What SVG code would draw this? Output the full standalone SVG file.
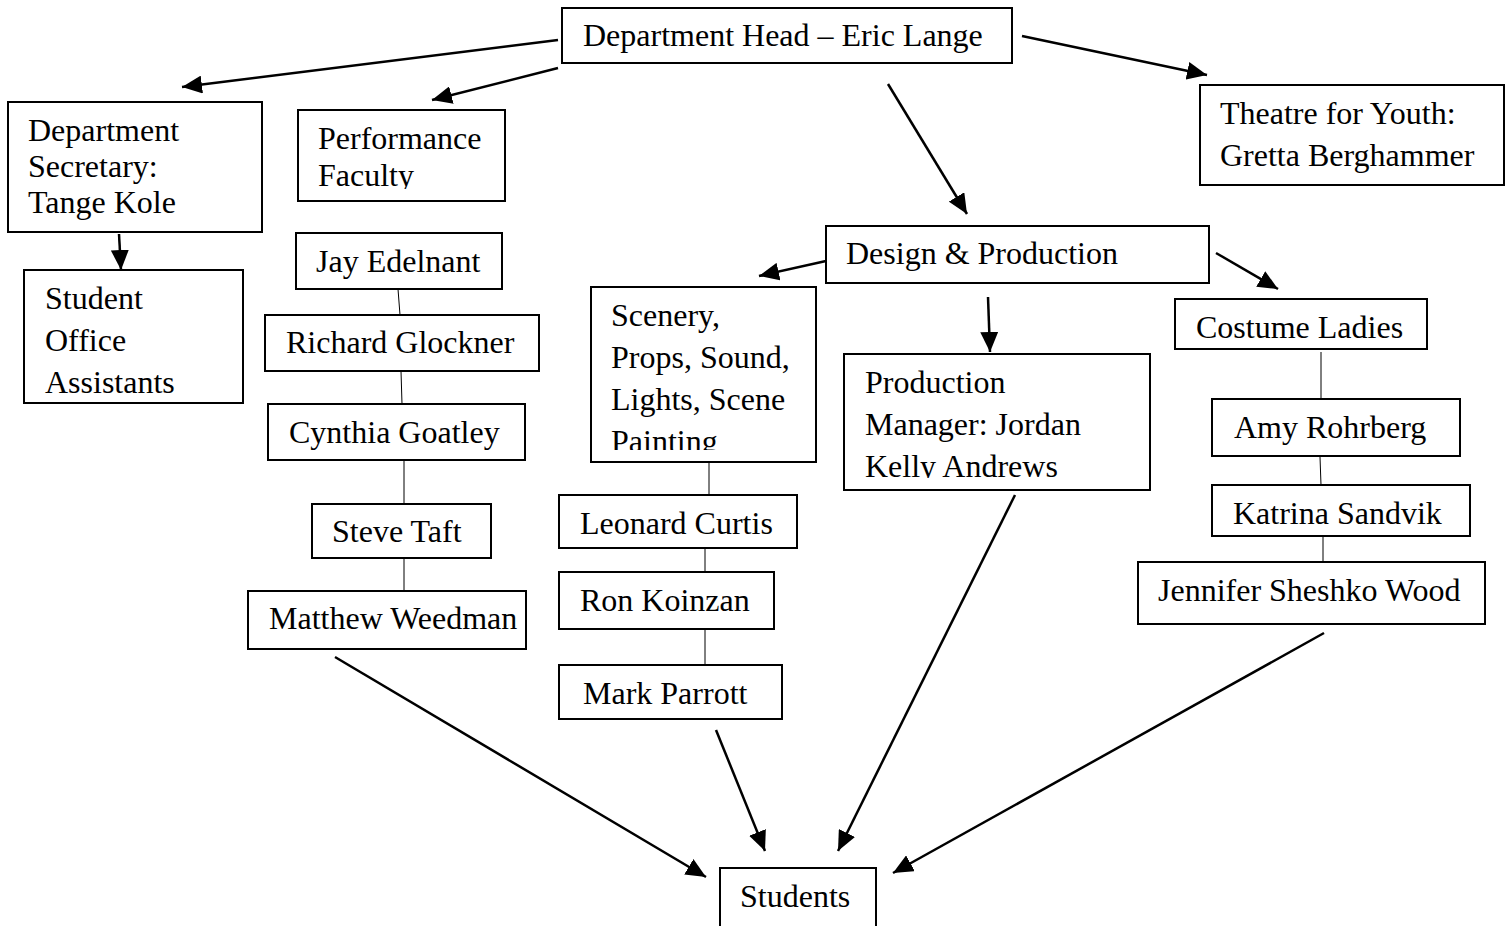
<svg xmlns="http://www.w3.org/2000/svg" width="1512" height="926" viewBox="0 0 1512 926">
<style>
.box{fill:#fff;stroke:#000;stroke-width:2}
text{font-family:"Liberation Serif","Times New Roman",serif;font-size:32px;fill:#000}
.arr{stroke:#000;stroke-width:2.5;fill:none;marker-end:url(#ah)}
.thin{stroke:#000;stroke-width:1;fill:none}
</style>
<defs>
<marker id="ah" markerUnits="userSpaceOnUse" markerWidth="22" markerHeight="18" refX="20" refY="9" orient="auto">
<path d="M0,0 L20,9 L0,18 Z" fill="#000"/>
</marker>
<clipPath id="cFac"><rect x="298" y="110" width="207" height="79"/></clipPath>
<clipPath id="cScen"><rect x="591" y="287" width="225" height="163"/></clipPath>
<clipPath id="cProd"><rect x="844" y="354" width="306" height="124"/></clipPath>
</defs>
<rect width="1512" height="926" fill="#fff"/>

<g id="connectors">
<line class="arr" x1="558" y1="40" x2="182" y2="87"/>
<line class="arr" x1="558" y1="68" x2="432" y2="100"/>
<line class="arr" x1="1022" y1="36" x2="1207" y2="75"/>
<line class="arr" x1="888" y1="84" x2="967" y2="214"/>
<line class="arr" x1="826" y1="261" x2="759" y2="276"/>
<line class="arr" x1="1216" y1="253" x2="1278" y2="289"/>
<line class="arr" x1="988" y1="297" x2="990" y2="352"/>
<line class="arr" x1="119" y1="234" x2="121" y2="270"/>
<line class="arr" x1="335" y1="657" x2="706" y2="877"/>
<line class="arr" x1="716" y1="730" x2="765" y2="851"/>
<line class="arr" x1="1015" y1="495" x2="838" y2="851"/>
<line class="arr" x1="1324" y1="633" x2="893" y2="873"/>
<line class="thin" x1="398" y1="289" x2="400" y2="315"/>
<line class="thin" x1="401" y1="371" x2="402" y2="404"/>
<line class="thin" x1="404" y1="460" x2="404" y2="504"/>
<line class="thin" x1="404" y1="558" x2="404" y2="591"/>
<line class="thin" x1="709" y1="462" x2="709" y2="495"/>
<line class="thin" x1="705" y1="548" x2="705" y2="572"/>
<line class="thin" x1="705" y1="629" x2="705" y2="665"/>
<line class="thin" x1="1321" y1="352" x2="1321" y2="398"/>
<line class="thin" x1="1320" y1="457" x2="1321" y2="485"/>
<line class="thin" x1="1323" y1="537" x2="1323" y2="562"/>
</g>

<g id="head"><rect class="box" x="562" y="8" width="450" height="55"/><text x="583" y="46">Department Head – Eric Lange</text></g>
<g id="secretary"><rect class="box" x="8" y="102" width="254" height="130"/><text x="28" y="141">Department</text><text x="28" y="177">Secretary:</text><text x="28" y="213">Tange Kole</text></g>
<g id="perf"><rect class="box" x="298" y="110" width="207" height="91"/><g clip-path="url(#cFac)"><text x="318" y="149">Performance</text><text x="318" y="186">Faculty</text></g></g>
<g id="tfy"><rect class="box" x="1200" y="85" width="304" height="100"/><text x="1220" y="124">Theatre for Youth:</text><text x="1220" y="166">Gretta Berghammer</text></g>
<g id="soa"><rect class="box" x="24" y="270" width="219" height="133"/><text x="45" y="309">Student</text><text x="45" y="351">Office</text><text x="45" y="393">Assistants</text></g>
<g id="jay"><rect class="box" x="296" y="233" width="206" height="56"/><text x="316" y="272">Jay Edelnant</text></g>
<g id="richard"><rect class="box" x="265" y="315" width="274" height="56"/><text x="286" y="353">Richard Glockner</text></g>
<g id="cynthia"><rect class="box" x="268" y="404" width="257" height="56"/><text x="289" y="443">Cynthia Goatley</text></g>
<g id="steve"><rect class="box" x="312" y="504" width="179" height="54"/><text x="332" y="542">Steve Taft</text></g>
<g id="matthew"><rect class="box" x="248" y="591" width="278" height="58"/><text x="269" y="629">Matthew Weedman</text></g>
<g id="design"><rect class="box" x="826" y="226" width="383" height="57"/><text x="846" y="264">Design &amp; Production</text></g>
<g id="scenery"><rect class="box" x="591" y="287" width="225" height="175"/><g clip-path="url(#cScen)"><text x="611" y="326">Scenery,</text><text x="611" y="368">Props, Sound,</text><text x="611" y="410">Lights, Scene</text><text x="611" y="452">Painting</text></g></g>
<g id="leonard"><rect class="box" x="559" y="495" width="238" height="53"/><text x="580" y="534">Leonard Curtis</text></g>
<g id="ron"><rect class="box" x="559" y="572" width="215" height="57"/><text x="580" y="611">Ron Koinzan</text></g>
<g id="mark"><rect class="box" x="559" y="665" width="223" height="54"/><text x="583" y="704">Mark Parrott</text></g>
<g id="prodmgr"><rect class="box" x="844" y="354" width="306" height="136"/><g clip-path="url(#cProd)"><text x="865" y="393">Production</text><text x="865" y="435">Manager: Jordan</text><text x="865" y="477">Kelly Andrews</text></g></g>
<g id="costume"><rect class="box" x="1175" y="299" width="252" height="50"/><text x="1196" y="338">Costume Ladies</text></g>
<g id="amy"><rect class="box" x="1212" y="399" width="248" height="57"/><text x="1234" y="438">Amy Rohrberg</text></g>
<g id="katrina"><rect class="box" x="1212" y="485" width="258" height="51"/><text x="1233" y="524">Katrina Sandvik</text></g>
<g id="jennifer"><rect class="box" x="1138" y="562" width="347" height="62"/><text x="1158" y="601">Jennifer Sheshko Wood</text></g>
<g id="students"><rect class="box" x="720" y="868" width="156" height="70"/><text x="740" y="907">Students</text></g>
</svg>
